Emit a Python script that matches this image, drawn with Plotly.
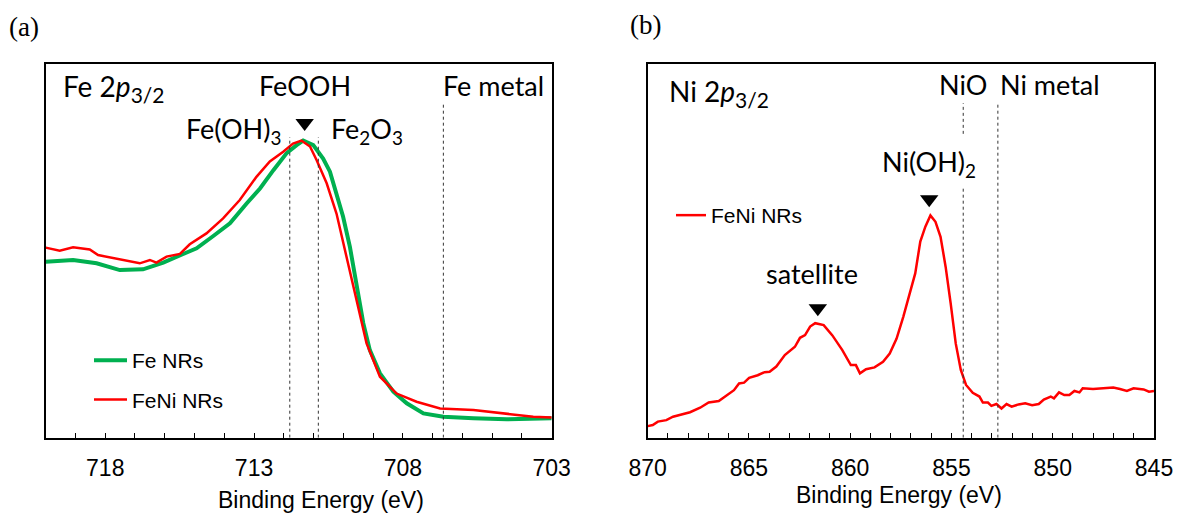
import plotly.graph_objects as go

# ---- Fe 2p3/2 spectra (binding energy in eV, intensity in arb. units) ----
fe_energy = [720.0, 719.08, 718.29, 717.51, 716.73, 716.05, 715.38, 714.93, 714.37, 713.81,
             713.25, 712.80, 712.35, 711.91, 711.57, 711.35, 711.01, 710.68, 710.45, 710.23,
             710.01, 709.78, 709.56, 709.33, 709.11, 708.77, 708.32, 707.87, 707.31, 706.64,
             705.63, 704.51, 703.0]
fe_nrs_intensity = [47.0, 47.5, 46.6, 44.8, 45.0, 46.8, 49.1, 50.6, 53.9, 57.3,
                    62.6, 66.6, 71.5, 76.0, 78.2, 79.4, 78.2, 74.6, 71.1, 65.3,
                    59.1, 51.0, 40.4, 30.6, 23.4, 17.2, 12.3, 9.2, 6.5, 5.6,
                    5.2, 4.9, 5.2]

feni_fe_energy = [720.0, 719.53, 719.08, 718.52, 718.24, 717.51, 716.84, 716.50, 716.28, 715.94,
                  715.49, 715.16, 714.60, 714.04, 713.48, 712.92, 712.47, 712.02, 711.69, 711.41,
                  711.12, 710.90, 710.56, 710.23, 709.89, 709.56, 709.22, 708.77, 708.21, 707.54,
                  706.75, 705.63, 704.51, 703.62, 703.0]
feni_fe_intensity = [50.8, 50.0, 50.9, 50.3, 48.8, 47.7, 46.6, 47.5, 46.8, 48.4,
                     49.1, 51.7, 54.6, 58.6, 63.5, 69.7, 73.8, 76.4, 78.6, 79.4,
                     77.8, 74.2, 68.0, 59.9, 48.4, 36.8, 25.2, 16.3, 11.8, 9.6,
                     7.8, 7.4, 6.5, 5.6, 5.4]

# ---- Ni 2p3/2 spectrum of FeNi NRs ----
ni_energy = [870.0, 869.75, 869.50, 869.08, 868.75, 868.33, 867.91, 867.41, 866.99, 866.49,
             866.07, 865.74, 865.49, 865.24, 864.99, 864.57, 864.23, 863.98, 863.65, 863.23,
             862.73, 862.48, 862.23, 861.98, 861.73, 861.31, 860.89, 860.39, 859.97, 859.72,
             859.52, 859.22, 858.80, 858.38, 858.05, 857.71, 857.38, 857.04, 856.79, 856.54,
             856.29, 856.04, 855.79, 855.54, 855.29, 855.04, 854.79, 854.54, 854.28, 853.95,
             853.62, 853.45, 853.20, 853.03, 852.78, 852.53, 852.28, 852.03, 851.69, 851.36,
             851.02, 850.69, 850.44, 850.10, 849.94, 849.69, 849.43, 849.18, 848.93, 848.68,
             848.52, 848.01, 847.51, 847.01, 846.68, 846.34, 846.01, 845.51, 845.25, 845.0]
ni_intensity = [3.1, 3.4, 4.3, 4.7, 5.6, 6.1, 6.8, 8.0, 9.4, 9.8,
                11.4, 12.7, 14.5, 14.7, 16.0, 16.7, 17.5, 17.6, 19.0, 22.1,
                24.3, 26.7, 27.4, 29.7, 30.6, 30.1, 27.4, 23.4, 19.4, 19.4,
                17.2, 18.3, 18.8, 20.3, 22.5, 26.5, 32.3, 38.6, 43.9, 52.4,
                56.4, 59.4, 57.7, 53.7, 45.7, 35.9, 25.2, 18.1, 14.1, 12.0,
                11.0, 9.4, 9.4, 8.5, 9.0, 7.8, 9.0, 8.3, 8.9, 9.2,
                8.7, 9.0, 10.2, 11.0, 10.5, 12.1, 11.4, 11.4, 12.5, 12.1,
                13.2, 13.0, 13.2, 13.4, 13.0, 12.5, 13.2, 12.9, 12.3, 12.5]

# reference binding energies (dotted guide lines)
fe_ref_energy = [711.80, 710.84, 706.64]
fe_ref_top = [80.3, 80.3, 89.2]
ni_ref_energy = [854.42, 852.71]

# peak markers
fe_marker_energy = [711.30]
fe_marker_intensity = [84.1]
ni_marker_energy = [861.60, 856.10]
ni_marker_intensity = [34.6, 63.7]

fe_ticks = [718, 713, 708, 703]
ni_ticks = [870, 865, 860, 855, 850, 845]

GREEN = "#00B050"
RED = "#FF0000"
W, H = 1178, 517


def px_x(p):
    return p / W


def px_y(p):
    return (H - p) / H


fig = go.Figure()

fig.add_trace(go.Scatter(x=fe_energy, y=fe_nrs_intensity, mode="lines", name="Fe NRs",
                         line=dict(color=GREEN, width=4), xaxis="x", yaxis="y",
                         legend="legend", legendgroup="a1"))
fig.add_trace(go.Scatter(x=feni_fe_energy, y=feni_fe_intensity, mode="lines", name="FeNi NRs",
                         line=dict(color=RED, width=2.5), xaxis="x", yaxis="y",
                         legend="legend", legendgroup="a2"))
fig.add_trace(go.Scatter(x=ni_energy, y=ni_intensity, mode="lines", name="FeNi NRs",
                         line=dict(color=RED, width=2.5), xaxis="x2", yaxis="y2",
                         legend="legend2"))

fig.add_trace(go.Scatter(x=fe_marker_energy, y=fe_marker_intensity, mode="markers",
                         marker=dict(symbol="triangle-down", size=16, color="black"),
                         xaxis="x", yaxis="y", showlegend=False, hoverinfo="skip"))
fig.add_trace(go.Scatter(x=ni_marker_energy, y=ni_marker_intensity, mode="markers",
                         marker=dict(symbol="triangle-down", size=16, color="black"),
                         xaxis="x2", yaxis="y2", showlegend=False, hoverinfo="skip"))

shapes = []
dot = dict(color="#333333", width=1, dash="dot")
for e, top in zip(fe_ref_energy, fe_ref_top):
    shapes.append(dict(type="line", xref="x", yref="y", x0=e, x1=e, y0=0, y1=top, line=dot))
# NiO line is interrupted by the Ni(OH)2 label
shapes.append(dict(type="line", xref="x2", yref="y2", x0=ni_ref_energy[0], x1=ni_ref_energy[0],
                   y0=81.2, y1=89.4, line=dot))
shapes.append(dict(type="line", xref="x2", yref="y2", x0=ni_ref_energy[0], x1=ni_ref_energy[0],
                   y0=0, y1=66.7, line=dot))
shapes.append(dict(type="line", xref="x2", yref="y2", x0=ni_ref_energy[1], x1=ni_ref_energy[1],
                   y0=0, y1=89.4, line=dot))

LBL = dict(family="Lato", size=27, color="black")
CORE = dict(family="Lato", size=28, color="black")
SUB = "<sub><span style='font-size:21px'>3/2</span></sub>"
annotations = [
    dict(text="Fe 2<i>p</i>" + SUB, x=719.48, y=93.5, xref="x", yref="y",
         xanchor="left", yanchor="middle", showarrow=False, font=CORE),
    dict(text="FeOOH", x=711.29, y=94.0, xref="x", yref="y",
         xanchor="center", yanchor="middle", showarrow=False, font=LBL),
    dict(text="Fe metal", x=704.94, y=94.0, xref="x", yref="y",
         xanchor="center", yanchor="middle", showarrow=False, font=LBL),
    dict(text="Fe(OH)<sub>3</sub>", x=712.03, y=82.0, xref="x", yref="y",
         xanchor="right", yanchor="middle", showarrow=False, font=LBL),
    dict(text="Fe<sub>2</sub>O<sub>3</sub>", x=710.48, y=82.0, xref="x", yref="y",
         xanchor="left", yanchor="middle", showarrow=False, font=LBL),
    dict(text="Ni 2<i>p</i>" + SUB, x=869.05, y=92.1, xref="x2", yref="y2",
         xanchor="left", yanchor="middle", showarrow=False, font=CORE),
    dict(text="NiO", x=854.42, y=94.3, xref="x2", yref="y2",
         xanchor="center", yanchor="middle", showarrow=False, font=LBL),
    dict(text="Ni metal", x=852.71, y=94.3, xref="x2", yref="y2",
         xanchor="left", yanchor="middle", showarrow=False, font=LBL),
    dict(text="Ni(OH)<sub>2</sub>", x=856.1, y=73.4, xref="x2", yref="y2",
         xanchor="center", yanchor="middle", showarrow=False, font=LBL),
    dict(text="satellite", x=861.89, y=44.0, xref="x2", yref="y2",
         xanchor="center", yanchor="middle", showarrow=False, font=LBL),
    dict(text="(a)", x=px_x(7), y=px_y(27), xref="paper", yref="paper",
         xanchor="left", yanchor="middle", showarrow=False,
         font=dict(family="Liberation Serif", size=27, color="black")),
    dict(text="(b)", x=px_x(628), y=px_y(25), xref="paper", yref="paper",
         xanchor="left", yanchor="middle", showarrow=False,
         font=dict(family="Liberation Serif", size=27, color="black")),
    dict(text="Binding Energy (eV)", x=px_x(321), y=px_y(500), xref="paper", yref="paper",
         xanchor="center", yanchor="middle", showarrow=False,
         font=dict(family="Liberation Sans", size=23, color="black")),
    dict(text="Binding Energy (eV)", x=px_x(899), y=px_y(495), xref="paper", yref="paper",
         xanchor="center", yanchor="middle", showarrow=False,
         font=dict(family="Liberation Sans", size=23, color="black")),
]

axis_common = dict(showline=True, linecolor="black", linewidth=1.5, mirror=True,
                   showgrid=False, zeroline=False, automargin=False)
tick_font = dict(family="Liberation Sans", size=23, color="black")

fig.update_layout(
    width=W, height=H,
    margin=dict(l=0, r=0, t=0, b=0, autoexpand=False),
    paper_bgcolor="white", plot_bgcolor="white",
    xaxis=dict(domain=[px_x(45.7), px_x(551.7)], range=[720, 703], anchor="y",
               tickvals=fe_ticks, ticks="inside", ticklen=5, tickcolor="black",
               tickfont=tick_font, ticklabelstandoff=9,
               minor=dict(dtick=1, tick0=703, ticks="inside", ticklen=5, tickcolor="black"),
               **axis_common),
    yaxis=dict(domain=[px_y(437.7), px_y(63.5)], range=[0, 100], anchor="x",
               showticklabels=False, ticks="", **axis_common),
    xaxis2=dict(domain=[px_x(647.7), px_x(1154)], range=[870, 845], anchor="y2",
                tickvals=ni_ticks, ticks="inside", ticklen=5, tickcolor="black",
                tickfont=tick_font, ticklabelstandoff=9,
                minor=dict(dtick=1, tick0=845, ticks="inside", ticklen=5, tickcolor="black"),
                **axis_common),
    yaxis2=dict(domain=[px_y(437.7), px_y(63.5)], range=[0, 100], anchor="x2",
                showticklabels=False, ticks="", **axis_common),
    legend=dict(x=px_x(89), y=px_y(340), xanchor="left", yanchor="top",
                bgcolor="rgba(0,0,0,0)", tracegroupgap=9, itemwidth=33,
                font=dict(family="Liberation Sans", size=21, color="black")),
    legend2=dict(x=px_x(671), y=px_y(195), xanchor="left", yanchor="top",
                 bgcolor="rgba(0,0,0,0)", itemwidth=30,
                 font=dict(family="Liberation Sans", size=21, color="black")),
    shapes=shapes,
    annotations=annotations,
    showlegend=True,
)

fig.write_html("out.html")
